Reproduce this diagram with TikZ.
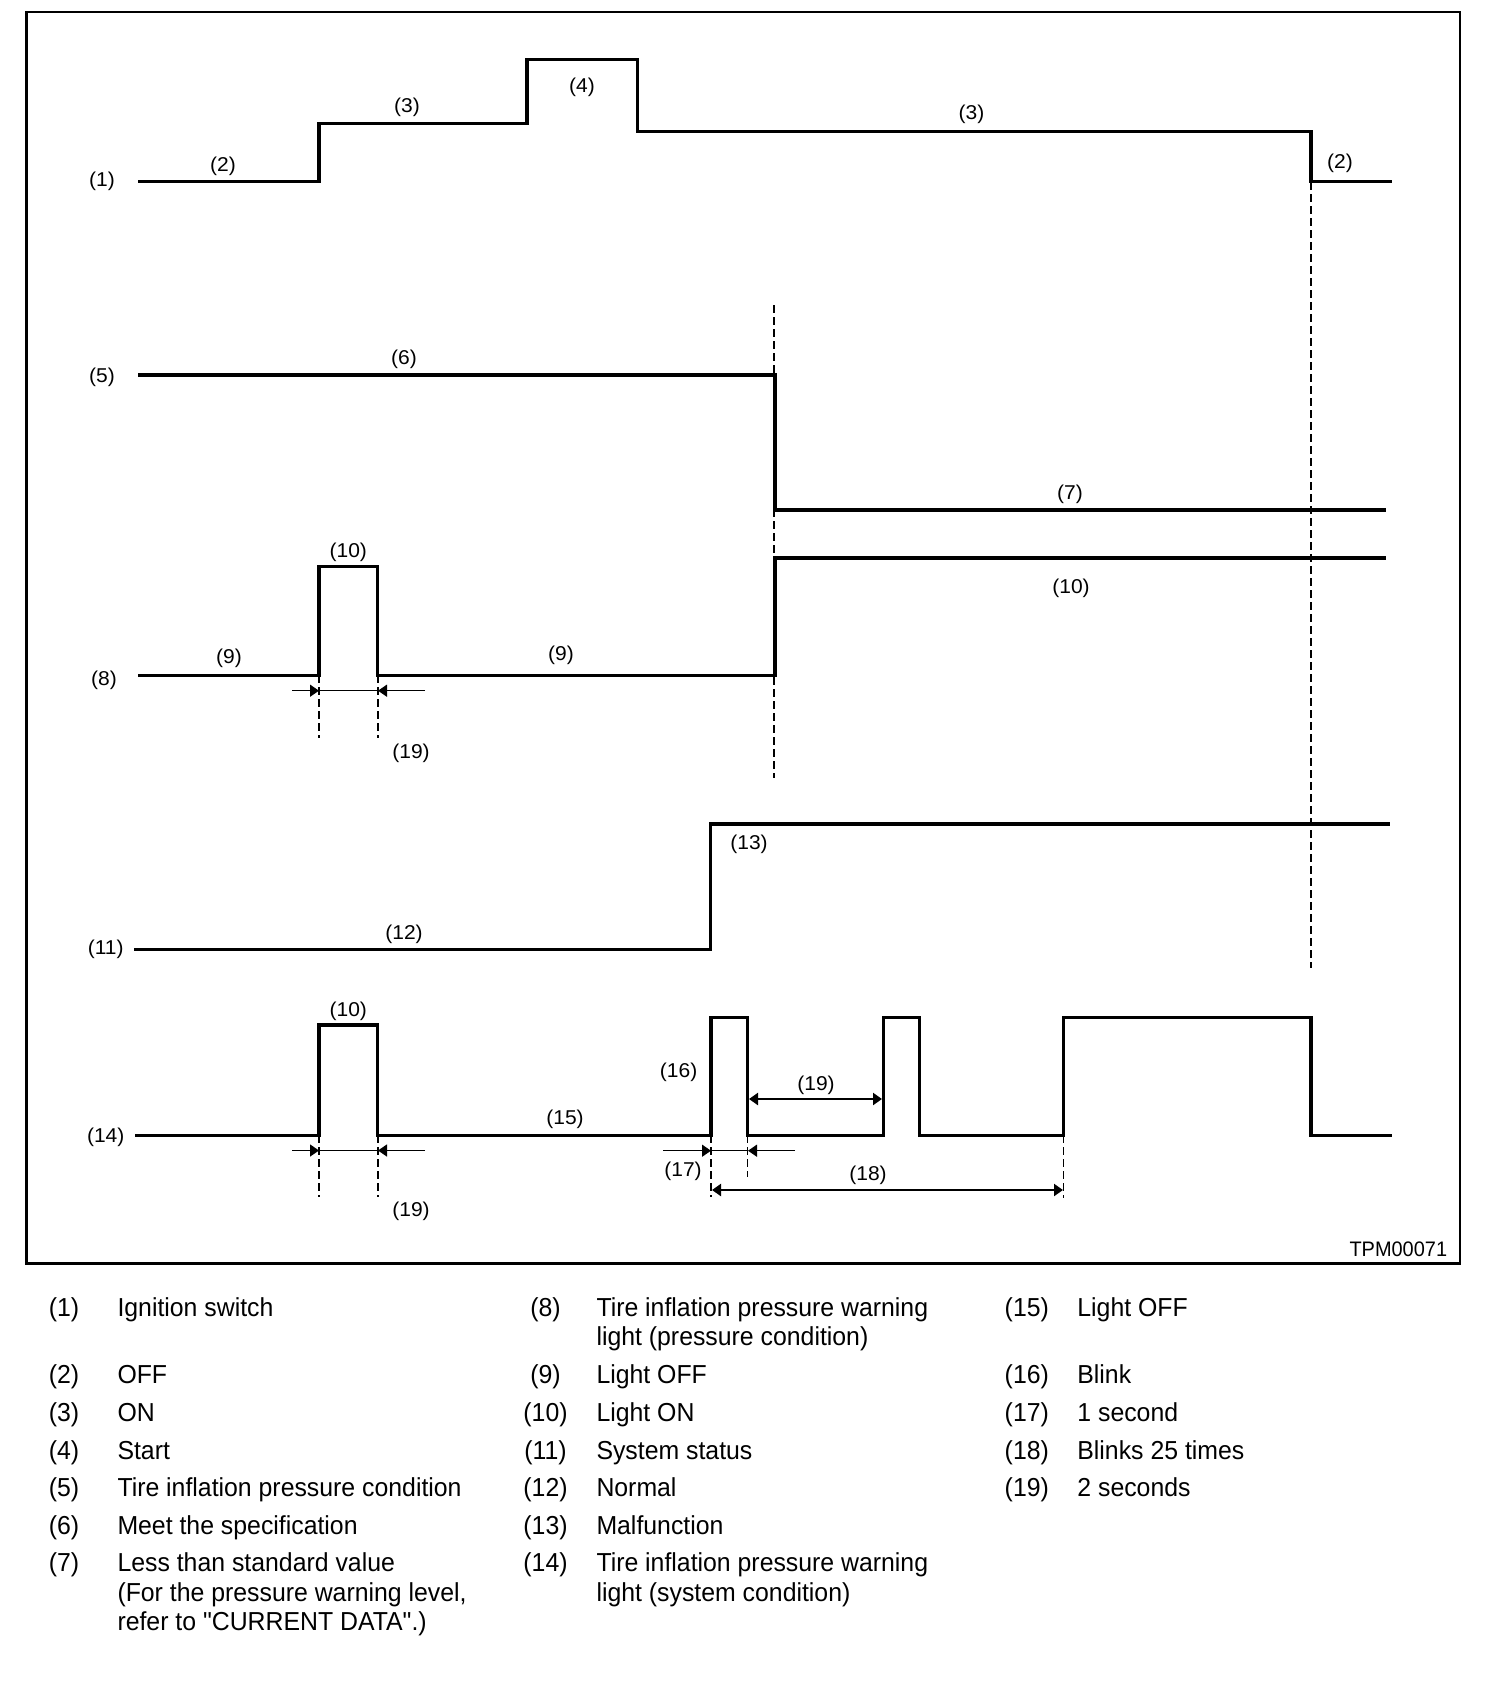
\documentclass[tikz,border=0pt]{standalone}
\usepackage{fontspec}
\setmainfont{Liberation Sans}
\newfontfamily\legfont[FakeStretch=0.955]{Liberation Sans}
\newfontfamily\labfont[FakeStretch=1.05]{Liberation Sans}
\newfontfamily\codefont[FakeStretch=0.95]{Liberation Sans}
\usetikzlibrary{arrows.meta}
\begin{document}
\begin{tikzpicture}[x=1pt,y=-1pt,
  sig/.style={line width=3.5pt, line join=miter, line cap=rect},
  dashln/.style={line width=1.1pt, dash pattern=on 8pt off 4pt},
  dimln/.style={line width=1.4pt},
  dimthick/.style={line width=2.2pt},
  tipin/.style={-{Triangle[length=9pt,width=12pt]}},
  tipboth/.style={{Triangle[length=9pt,width=12pt]}-{Triangle[length=9pt,width=12pt]}},
  lab/.style={inner sep=0pt, font=\labfont\fontsize{20}{24}\selectfont},
  leg/.style={inner sep=0pt, anchor=base west, font=\legfont\fontsize{26}{29}\selectfont},
  legnum/.style={inner sep=0pt, anchor=base, font=\legfont\fontsize{26}{29}\selectfont},
  boxframe/.style={line width=2.2pt}
]
\useasboundingbox (0,0) rectangle (1504,1706);
\fill[white] (0,0) rectangle (1504,1706);

% frame
\draw[boxframe] (26.5,12) rectangle (1460,1263.5);

% ---- signals ----
\draw[sig] (139.6,181.7) -- (319,181.7) -- (319,123.3) -- (527,123.3) -- (527,59.3) -- (637.4,59.3) -- (637.4,131.5) -- (1311,131.5) -- (1311,181.7) -- (1390,181.7);
\draw[sig] (139.6,375) -- (775,375) -- (775,510) -- (1384.7,510);
\draw[sig] (139.6,675.3) -- (319,675.3) -- (319,566.7) -- (377.7,566.7) -- (377.7,675.3) -- (775,675.3) -- (775,558) -- (1384.7,558);
\draw[sig] (135.7,949.3) -- (710.6,949.3) -- (710.6,824) -- (1388,824);
\draw[sig] (137,1135.3) -- (319,1135.3) -- (319,1025) -- (377.7,1025) -- (377.7,1135.3) -- (711,1135.3) -- (711,1017.3) -- (747.7,1017.3) -- (747.7,1135.3) -- (883.3,1135.3) -- (883.3,1017.3) -- (919.3,1017.3) -- (919.3,1135.3) -- (1063.6,1135.3) -- (1063.6,1017.3) -- (1311,1017.3) -- (1311,1135.3) -- (1390.6,1135.3);

% ---- dashed guides ----
\draw[dashln] (774,305) -- (774,778);
\draw[dashln] (1311,182) -- (1311,968);
\draw[dashln] (319,675) -- (319,738);
\draw[dashln] (378,675) -- (378,738);
\draw[dashln] (319,1135) -- (319,1197);
\draw[dashln] (378,1135) -- (378,1197);
\draw[dashln] (711,1135) -- (711,1197);
\draw[dashln] (747.7,1135) -- (747.7,1177);
\draw[dashln] (1063.6,1135) -- (1063.6,1198);

% ---- dimension arrows ----
\coordinate (a1) at (292,690.7);
\coordinate (a2) at (319,690.7);
\coordinate (a3) at (378,690.7);
\coordinate (a4) at (425,690.7);
\draw[dimln] (a2) -- (a3);
\draw[dimln,tipin] (a1) -- (a2);
\draw[dimln,tipin] (a4) -- (a3);

\coordinate (b1) at (292,1150.5);
\coordinate (b2) at (319,1150.5);
\coordinate (b3) at (378,1150.5);
\coordinate (b4) at (425,1150.5);
\draw[dimln] (b2) -- (b3);
\draw[dimln,tipin] (b1) -- (b2);
\draw[dimln,tipin] (b4) -- (b3);

\coordinate (c1) at (663,1150.7);
\coordinate (c2) at (711,1150.7);
\coordinate (c3) at (748,1150.7);
\coordinate (c4) at (795,1150.7);
\draw[dimln] (c2) -- (c3);
\draw[dimln,tipin] (c1) -- (c2);
\draw[dimln,tipin] (c4) -- (c3);

\coordinate (d1) at (749,1099);
\coordinate (d2) at (882,1099);
\draw[dimthick,tipboth] (d1) -- (d2);

\coordinate (e1) at (712,1190);
\coordinate (e2) at (1063,1190);
\draw[dimthick,tipboth] (e1) -- (e2);

% ---- diagram labels ----
\node[lab] (n1)  at (102,181.5) {(1)};
\node[lab] (n2a) at (223,166.5) {(2)};
\node[lab] (n3a) at (407,107.5) {(3)};
\node[lab] (n4)  at (582,87.5) {(4)};
\node[lab] (n3b) at (971.5,114) {(3)};
\node[lab] (n2b) at (1340,163.5) {(2)};
\node[lab] (n5)  at (102,377.5) {(5)};
\node[lab] (n6)  at (404,359.5) {(6)};
\node[lab] (n7)  at (1070,494.5) {(7)};
\node[lab] (n8)  at (104,680) {(8)};
\node[lab] (n9a) at (229,658) {(9)};
\node[lab] (n9b) at (561,655.8) {(9)};
\node[lab] (n10a) at (348.3,552) {(10)};
\node[lab] (n10b) at (1071,588) {(10)};
\node[lab] (n19a) at (411,753) {(19)};
\node[lab] (n11) at (105.7,949) {(11)};
\node[lab] (n12) at (404,934) {(12)};
\node[lab] (n13) at (749,844) {(13)};
\node[lab] (n14) at (105.7,1137) {(14)};
\node[lab] (n10c) at (348.3,1011) {(10)};
\node[lab] (n15) at (565,1119) {(15)};
\node[lab] (n16) at (678.6,1072.5) {(16)};
\node[lab] (n17) at (683,1171) {(17)};
\node[lab] (n19b) at (411,1211) {(19)};
\node[lab] (n19c) at (816,1085) {(19)};
\node[lab] (n18) at (868,1175.5) {(18)};
\node[inner sep=0pt, anchor=base east, font=\codefont\fontsize{21}{24}\selectfont] (code) at (1447.3,1256.7) {TPM00071};

% ---- legend ----
% column 1
\node[legnum] (k1) at (64,1316) {(1)};   \node[leg] (t1) at (117.3,1316) {Ignition switch};
\node[legnum] (k2) at (64,1383.3) {(2)}; \node[leg] (t2) at (117.3,1383.3) {OFF};
\node[legnum] (k3) at (64,1421.5) {(3)}; \node[leg] (t3) at (117.3,1421.5) {ON};
\node[legnum] (k4) at (64,1459.3) {(4)}; \node[leg] (t4) at (117.3,1459.3) {Start};
\node[legnum] (k5) at (64,1496.8) {(5)}; \node[leg] (t5) at (117.3,1496.8) {Tire inflation pressure condition};
\node[legnum] (k6) at (64,1534.2) {(6)}; \node[leg] (t6) at (117.3,1534.2) {Meet the specification};
\node[legnum] (k7) at (64,1571.7) {(7)}; \node[leg] (t7) at (117.3,1571.7) {Less than standard value};
\node[leg] (t7b) at (117.3,1601.2) {(For the pressure warning level,};
\node[leg] (t7c) at (117.3,1630.5) {refer to "CURRENT DATA".)};
% column 2
\node[legnum] (k8) at (545.5,1316) {(8)};    \node[leg] (t8) at (596.3,1316) {Tire inflation pressure warning};
\node[leg] (t8b) at (596.3,1345) {light (pressure condition)};
\node[legnum] (k9) at (545.5,1383.3) {(9)};  \node[leg] (t9) at (596.3,1383.3) {Light OFF};
\node[legnum] (k10) at (545.5,1421.5) {(10)}; \node[leg] (t10) at (596.3,1421.5) {Light ON};
\node[legnum] (k11) at (545.5,1459.3) {(11)}; \node[leg] (t11) at (596.3,1459.3) {System status};
\node[legnum] (k12) at (545.5,1496.8) {(12)}; \node[leg] (t12) at (596.3,1496.8) {Normal};
\node[legnum] (k13) at (545.5,1534.2) {(13)}; \node[leg] (t13) at (596.3,1534.2) {Malfunction};
\node[legnum] (k14) at (545.5,1571.7) {(14)}; \node[leg] (t14) at (596.3,1571.7) {Tire inflation pressure warning};
\node[leg] (t14b) at (596.3,1601) {light (system condition)};
% column 3
\node[legnum] (k15) at (1026.8,1316) {(15)};   \node[leg] (t15) at (1077.2,1316) {Light OFF};
\node[legnum] (k16) at (1026.8,1383.3) {(16)}; \node[leg] (t16) at (1077.2,1383.3) {Blink};
\node[legnum] (k17) at (1026.8,1421.5) {(17)}; \node[leg] (t17) at (1077.2,1421.5) {1 second};
\node[legnum] (k18) at (1026.8,1459.3) {(18)}; \node[leg] (t18) at (1077.2,1459.3) {Blinks 25 times};
\node[legnum] (k19) at (1026.8,1496.8) {(19)}; \node[leg] (t19) at (1077.2,1496.8) {2 seconds};
\end{tikzpicture}
\end{document}
